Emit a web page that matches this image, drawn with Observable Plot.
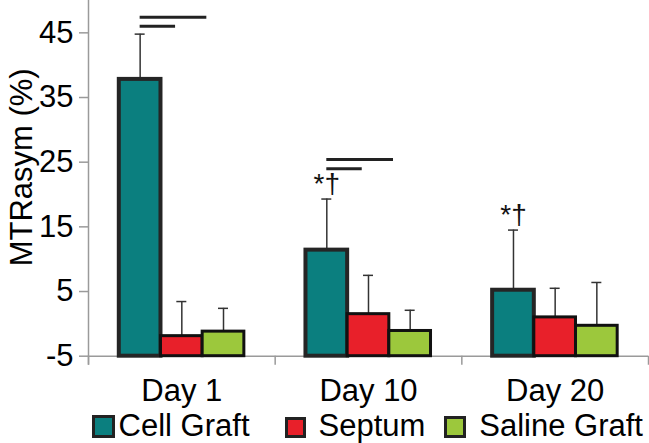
<!DOCTYPE html>
<html>
<head>
<meta charset="utf-8">
<script src="https://cdn.jsdelivr.net/npm/d3@7"></script>
<script src="https://cdn.jsdelivr.net/npm/@observablehq/plot@0.6"></script>
<style>
  body { margin: 0; background: #fff; }
  #wrap { width: 649px; font-family: "Liberation Sans", Arial, Helvetica, sans-serif; }
  #legend { position: relative; width: 649px; height: 35px; font-size: 31px; color: #000; overflow: hidden; }
  #legend .sw { position: absolute; box-sizing: border-box; border: 3px solid #222; }
  #legend .lab { position: absolute; line-height: 31px; white-space: nowrap; }
</style>
</head>
<body>
<div id="wrap"></div>
<script>
// ---- data ----
const days = ["Day 1", "Day 10", "Day 20"];
const groups = ["Cell Graft", "Septum", "Saline Graft"];
const groupColors = ["#0b7f7f", "#e8202a", "#9cc83c"];
const cellGraft = [37.8, 11.4, 5.2];
const cellGraftErr = [7.0, 7.9, 9.3];
const septum = [-1.9, 1.5, 1.0];
const septumErr = [5.35, 6.0, 4.5];
const salineGraft = [-1.2, -1.1, -0.3];
const salineGraftErr = [3.6, 3.2, 6.7];
const yTicks = [-5, 5, 15, 25, 35, 45];
const starDays = ["Day 10", "Day 20"];
const starLabel = "*†";
const sigDays = ["Day 1", "Day 1", "Day 10", "Day 10"];
const sigLevels = [47.4, 46.0, 25.4, 24.0];
const sigTargets = ["Saline Graft", "Septum", "Saline Graft", "Septum"];
const yLabel = "MTRasym (%)";

// ---- build table ----
const means = [cellGraft, septum, salineGraft];
const errs = [cellGraftErr, septumErr, salineGraftErr];
const bars = days.flatMap((d, di) => groups.map((g, gi) => ({
  day: d, di, group: g, gi, value: means[gi][di], upper: means[gi][di] + errs[gi][di]
})));

const PAD = 0.165, W = 0.2233; // layout: group offset and bar width within a day band
const bx1 = d => d.di + PAD + d.gi * W;
const bx2 = d => d.di + PAD + (d.gi + 1) * W;
const bxc = d => d.di + PAD + (d.gi + 0.5) * W;

const stars = bars.filter(d => d.gi === 0 && starDays.includes(d.day));
const spanOf = {"Septum": 0.85, "Saline Graft": 1.6};
const sig = sigDays.map((d, i) => ({di: days.indexOf(d), y: sigLevels[i], target: sigTargets[i]}));
const dayPos = days.map((d, i) => ({day: d, x: i + 0.5}));
const xTicks = d3.range(days.length + 1);

const FONT = "Liberation Sans, Arial, Helvetica, sans-serif";
const AX = "#9a9a9a";

const chart = Plot.plot({
  width: 649,
  height: 408,
  marginLeft: 88,
  marginRight: 1,
  marginTop: 0,
  marginBottom: 52.3,
  style: {fontFamily: FONT, background: "#fff", overflow: "visible"},
  x: {domain: [0, days.length], axis: null},
  y: {domain: [-5, 50], axis: null},
  color: {domain: groups, range: groupColors},
  marks: [
    // axes
    Plot.ruleX([0], {stroke: AX, strokeWidth: 1.5, insetBottom: -9}),
    Plot.ruleY([-5], {stroke: AX, strokeWidth: 1.5}),
    Plot.ruleX(xTicks, {x: d => d, y1: -5, y2: -5, insetBottom: -9, stroke: AX, strokeWidth: 1.5}),
    Plot.ruleY(yTicks, {y: d => d, x1: 0, x2: 0, insetLeft: -9, stroke: AX, strokeWidth: 1.5}),
    Plot.text(yTicks, {x: 0, y: d => d, text: d => String(d), dx: -15, textAnchor: "end", fontSize: 31, fill: "#000"}),
    Plot.text(dayPos, {x: "x", y: -5, text: "day", dy: 44.3, lineAnchor: "bottom", fontSize: 31, fill: "#000"}),
    Plot.text([yLabel], {frameAnchor: "left", text: d => d, rotate: -90, dx: -57, dy: -11, lineAnchor: "bottom", textAnchor: "middle", fontSize: 31, fill: "#000"}),
    // error bars
    Plot.ruleX(bars, {x: bxc, y1: "value", y2: "upper", stroke: "#333", strokeWidth: 1.5}),
    Plot.ruleY(bars, {y: "upper", x1: bxc, x2: bxc, insetLeft: -5, insetRight: -5, stroke: "#333", strokeWidth: 1.5}),
    // bars
    Plot.rectY(bars.filter(d => d.gi === 0), {x1: bx1, x2: bx2, y1: -5, y2: "value", fill: "group", stroke: "#252525", strokeWidth: 4}),
    Plot.rectY(bars.filter(d => d.gi !== 0), {x1: bx1, x2: bx2, y1: -5, y2: "value", fill: "group", stroke: "#111", strokeWidth: 3}),
    // significance
    Plot.ruleY(sig, {y: "y", x1: d => d.di + PAD + 0.5 * W, x2: d => d.di + PAD + (0.5 + spanOf[d.target]) * W, stroke: "#222", strokeWidth: 3}),
    Plot.text(stars, {x: bxc, y: "upper", text: () => starLabel, dy: -6, lineAnchor: "bottom", fontSize: 28, fill: "#111"})
  ]
});

const wrap = document.getElementById("wrap");
wrap.appendChild(chart);

// legend (HTML, below the SVG)
const legend = document.createElement("div");
legend.id = "legend";
const legendLayout = [
  {sw: 92, size: 23, lab: 118.6},
  {sw: 284.6, size: 21.5, lab: 318.6},
  {sw: 443.6, size: 22.5, lab: 479.3}
];
groups.forEach((g, i) => {
  const L = legendLayout[i];
  const s = document.createElement("div");
  s.className = "sw";
  s.style.left = L.sw + "px";
  s.style.top = (30 - L.size) + "px";
  s.style.width = L.size + "px";
  s.style.height = L.size + "px";
  s.style.background = groupColors[i];
  if (i === 0) s.style.borderWidth = "3.5px";
  legend.appendChild(s);
  const t = document.createElement("span");
  t.className = "lab";
  t.style.left = L.lab + "px";
  t.style.top = "1.8px";
  t.textContent = g;
  legend.appendChild(t);
});
wrap.appendChild(legend);
</script>
</body>
</html>
